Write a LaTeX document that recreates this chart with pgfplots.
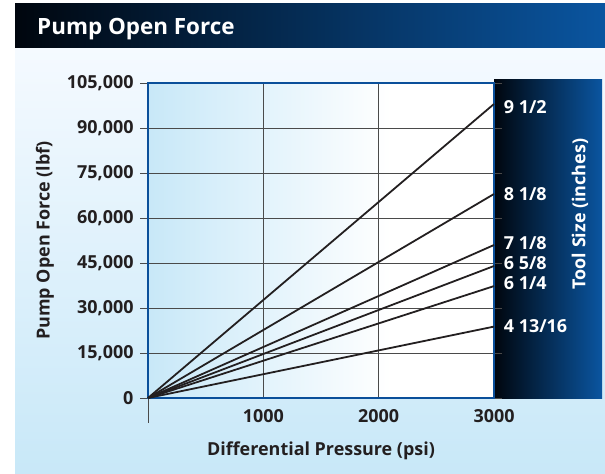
\documentclass[border=0pt]{standalone}
\usepackage{pgfplots}
\pgfplotsset{compat=1.18}
\usepackage{fontspec}
\setmainfont{Open Sans}
\definecolor{txt}{HTML}{231F20}
\definecolor{lb}{HTML}{C8E8F8}
\definecolor{topbg}{HTML}{F5FAFF}
\definecolor{fblue}{HTML}{0A4F9A}
\definecolor{panelblue}{HTML}{0A55A0}
\definecolor{dark}{HTML}{00060E}
\definecolor{gridc}{HTML}{4A4A4A}
\pgfdeclarehorizontalshading{plotbg}{100bp}{color(0bp)=(lb); color(25bp)=(lb); color(60bp)=(white); color(100bp)=(white)}
\tikzset{lbl/.style={anchor=west, inner sep=0pt, xshift=9bp, text=white, font=\fontsize{18}{20}\selectfont\bfseries}}
\begin{document}
\begin{tikzpicture}[x=1bp,y=1bp]
\useasboundingbox (0,0) rectangle (605,474);
\fill[white] (0,0) rectangle (605,474);
\shade[top color=topbg, bottom color=lb] (15,0) rectangle (605,426);
\shade[left color=dark, right color=panelblue] (15,426) rectangle (605,470);
\node[anchor=base west, text=white, inner sep=0pt, font=\fontsize{22.5}{27}\selectfont\bfseries] at (37,439) {Pump Open Force};
\shade[left color=dark, right color=panelblue] (494,75) rectangle (602,394);
\node[rotate=90, text=white, inner sep=0pt, font=\fontsize{18}{20}\selectfont\bfseries] at (580,260) {Tool Size (inches)};
\begin{axis}[
  at={(148bp,76bp)}, anchor=south west,
  scale only axis, width=346bp, height=315bp,
  xmin=0, xmax=3000, ymin=0, ymax=105000,
  xtick={1000,2000,3000}, xticklabels={1000,2000,3000},
  ytick={0,15000,30000,45000,60000,75000,90000,105000},
  yticklabels={0,{15,000},{30,000},{45,000},{60,000},{75,000},{90,000},{105,000}},
  scaled y ticks=false,
  tick label style={font=\fontsize{18}{20}\selectfont\bfseries, text=txt},
  yticklabel style={xshift=-3bp},
  grid=major, major grid style={draw=gridc, line width=0.9pt},
  axis line style={draw=fblue, line width=1.8pt},
  tick align=outside, major tick length=8bp,
  ytick style={draw=gridc, line width=0.9pt},
  xtick style={draw=none},
  axis background/.style={shading=plotbg},
  clip=false,
  xlabel={Differential Pressure (psi)}, ylabel={Pump Open Force (lbf)},
  every axis x label/.style={at={(axis description cs:0.5,-0.168)}, anchor=center, font=\fontsize{18}{20}\selectfont\bfseries, text=txt},
  every axis y label/.style={at={(axis description cs:-0.2977,0.5)}, anchor=center, rotate=90, font=\fontsize{18}{20}\selectfont\bfseries, text=txt},
]
\draw[gridc, line width=0.9pt] (axis cs:0,0) -- ++(0,-25bp);
\addplot[txt, line width=1.8pt] coordinates {(0,0) (3000,98000)} node[pos=1, lbl, yshift=-3bp] {9 1/2};
\addplot[txt, line width=1.8pt] coordinates {(0,0) (3000,68000)} node[pos=1, lbl] {8 1/8};
\addplot[txt, line width=1.8pt] coordinates {(0,0) (3000,51000)} node[pos=1, lbl, yshift=2bp] {7 1/8};
\addplot[txt, line width=1.8pt] coordinates {(0,0) (3000,44000)} node[pos=1, lbl, yshift=3bp] {6 5/8};
\addplot[txt, line width=1.8pt] coordinates {(0,0) (3000,37300)} node[pos=1, lbl, yshift=3bp] {6 1/4};
\addplot[txt, line width=1.8pt] coordinates {(0,0) (3000,23800)} node[pos=1, lbl] {4 13/16};
\end{axis}
\end{tikzpicture}
\end{document}
